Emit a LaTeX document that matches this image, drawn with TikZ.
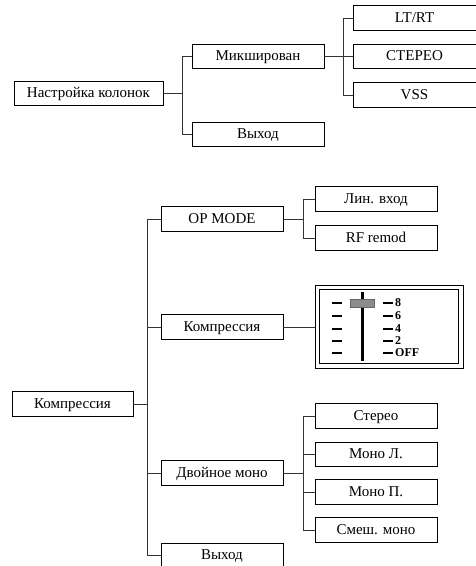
\documentclass[tikz,border=0pt]{standalone}
\usepackage{fontspec}
\setmainfont{Liberation Serif}
\begin{document}
\begin{tikzpicture}[x=1pt,y=-1pt,
  box/.style={draw=black,line width=0.9pt,minimum height=24.5pt,inner sep=0pt,text height=11pt,text depth=3pt,font=\fontsize{15}{17}\selectfont},
  conn/.style={draw=black!80,line width=0.9pt},
  lbl/.style={font=\bfseries\fontsize{12}{13}\selectfont,inner sep=0pt,anchor=west}]
\useasboundingbox (0,0) rectangle (475,566);
% top tree
\node[box,minimum width=149pt] (root1) at (88.5,93.5) {Настройка колонок};
\node[box,minimum width=132pt] (mix) at (258,56.5) {Микширован};
\node[box,minimum width=132pt] (out1) at (258,134.5) {Выход};
\node[box,minimum width=123pt] (lt) at (414.5,18) {LT/RT};
\node[box,minimum width=123pt] (st) at (414.5,56.5) {СТЕРЕО};
\node[box,minimum width=123pt] (vss) at (414.5,95) {VSS};
\coordinate (j1) at (182,93.5);
\coordinate (j2) at (343,56.5);
\draw[conn] (root1.east) -- (j1);
\draw[conn] (j1) |- (mix.west);
\draw[conn] (j1) |- (out1.west);
\draw[conn] (mix.east) -- (j2);
\draw[conn] (j2) |- (lt.west);
\draw[conn] (j2) -- (st.west);
\draw[conn] (j2) |- (vss.west);
% bottom tree
\node[box,minimum width=121pt] (root2) at (72.5,404) {Компрессия};
\node[box,minimum width=122pt] (op) at (222,219) {OP MODE};
\node[box,minimum width=122pt] (comp) at (222,327) {Компрессия};
\node[box,minimum width=122pt] (dual) at (222,473) {Двойное моно};
\node[box,minimum width=122pt] (out2) at (222,555.5) {Выход};
\node[box,minimum width=122pt] (lin) at (376,199) {Лин. вход};
\node[box,minimum width=122pt] (rf) at (376,238) {RF remod};
\node[box,minimum width=122pt] (ster) at (376,416) {Стерео};
\node[box,minimum width=122pt] (ml) at (376,454.5) {Моно Л.};
\node[box,minimum width=122pt] (mp) at (376,492) {Моно П.};
\node[box,minimum width=122pt] (sm) at (376,530) {Смеш. моно};
\node[draw=black,line width=0.9pt,minimum width=148pt,minimum height=83pt,inner sep=0pt] (slider) at (389,326.5) {};
\coordinate (j3) at (147,404);
\coordinate (j4) at (303,219);
\coordinate (j5) at (303,473);
\draw[conn] (root2.east) -- (j3);
\draw[conn] (j3) |- (op.west);
\draw[conn] (j3) |- (comp.west);
\draw[conn] (j3) |- (dual.west);
\draw[conn] (j3) |- (out2.west);
\draw[conn] (op.east) -- (j4);
\draw[conn] (j4) |- (lin.west);
\draw[conn] (j4) |- (rf.west);
\draw[conn] (comp.east) -- (comp.east -| slider.west);
\draw[conn] (dual.east) -- (j5);
\draw[conn] (j5) |- (ster.west);
\draw[conn] (j5) |- (ml.west);
\draw[conn] (j5) |- (mp.west);
\draw[conn] (j5) |- (sm.west);
% slider contents
\draw[line width=0.9pt] ([shift={(5,5)}]slider.north west) rectangle ([shift={(-5,-5)}]slider.south east);
\foreach \yy in {303,316,328.5,341,353} {
  \draw[line width=2pt] (332,\yy) -- (342,\yy);
  \draw[line width=2pt] (383,\yy) -- (393,\yy);
}
\draw[line width=3pt] (362,292) -- (362,361);
\fill[black!45,draw=black!60,line width=0.5pt] (350,299.5) rectangle (374.5,307);
\node[lbl] (l8) at (395,303) {8};
\node[lbl] (l6) at (395,316) {6};
\node[lbl] (l4) at (395,328.5) {4};
\node[lbl] (l2) at (395,341) {2};
\node[lbl] (loff) at (395,353) {OFF};
\end{tikzpicture}
\end{document}
